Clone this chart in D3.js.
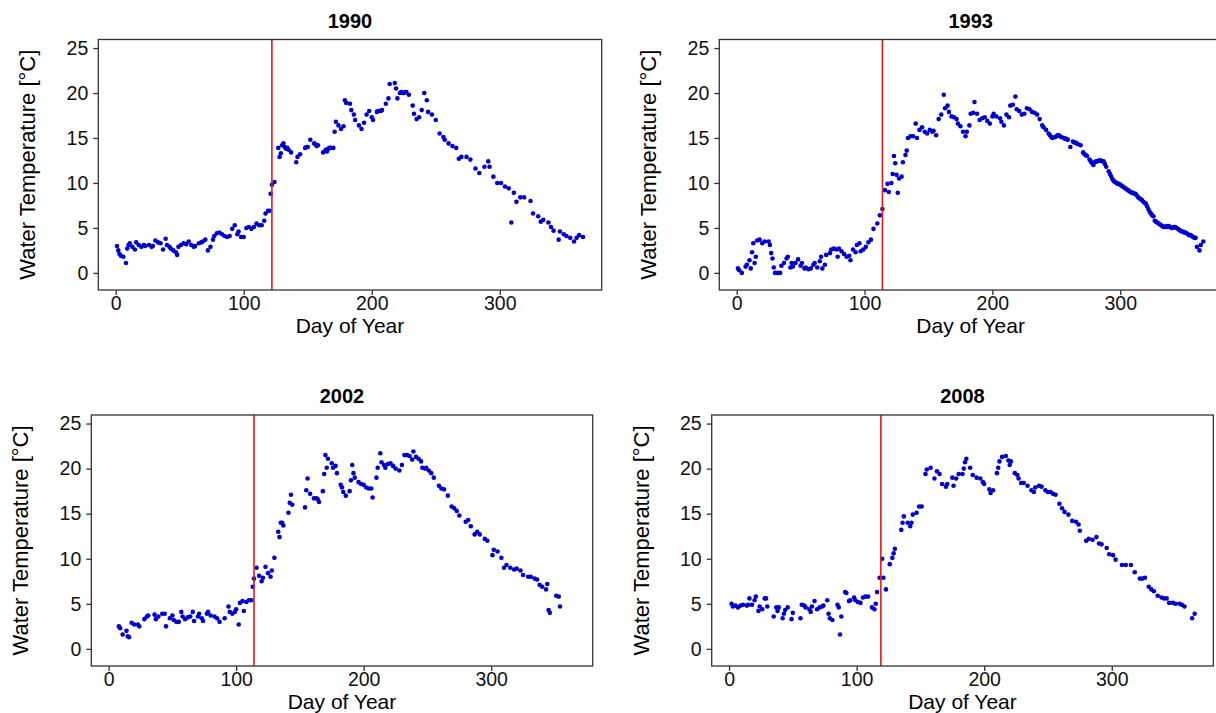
<!DOCTYPE html>
<html><head><meta charset="utf-8">
<script src="https://cdn.jsdelivr.net/npm/d3@7/dist/d3.min.js"></script>
<style>body{margin:0;background:#fff}svg{display:block}</style>
</head><body>
<svg id="c" width="1216" height="713"></svg>
<script>
const years = ["1990", "1993", "2002", "2008"];
const markerDays = [122, 114, 114, 119];
const xTicks = [0, 100, 200, 300];
const yTicks = [0, 5, 10, 15, 20, 25];

const days1990 = [1,2,3,4,6,8,9,10,11,13,15,16,18,20,22,23,26,28,29,31,33,35,37,39,40,42,43,45,47,48,49,51,53,55,57,59,61,62,65,67,68,70,72,74,76,77,79,81,83,85,87,89,91,93,95,96,98,100,102,104,106,108,110,112,114,116,117,119,120,121,122,124,127,128,129,130,131,132,133,134,135,137,141,142,144,148,149,150,152,155,156,157,158,162,164,165,166,167,168,170,171,172,174,176,178,179,180,183,184,186,187,190,192,194,196,198,200,201,204,205,206,207,208,211,213,214,218,219,220,222,223,224,225,226,227,229,232,233,235,237,239,241,243,244,247,250,253,256,257,260,263,266,268,270,274,277,281,284,288,291,292,295,298,301,304,307,309,311,313,316,319,324,326,330,332,334,338,340,342,346,347,350,352,355,358,360,362,365];
const temp1990 = [3.0,2.5,2.1,1.9,1.8,1.1,2.7,3.1,3.3,2.9,2.6,3.4,3.1,2.9,3.1,3.0,3.1,2.9,3.0,3.6,3.4,3.3,2.6,3.8,3.1,2.9,2.7,2.5,2.3,2.0,2.9,3.1,3.3,3.2,3.5,3.1,2.9,3.0,3.3,3.4,3.5,3.7,2.5,2.9,3.7,4.1,4.4,4.5,4.3,4.1,4.0,4.1,4.9,5.3,4.3,4.6,4.0,4.0,5.0,5.1,4.9,5.1,5.5,5.3,5.3,5.8,6.6,6.9,6.9,8.8,9.8,10.1,13.9,12.9,13.3,14.2,14.4,14.0,13.8,13.9,13.7,13.4,12.3,12.9,13.2,13.9,14.0,14.0,14.8,14.4,14.3,14.1,14.2,13.4,13.7,13.5,13.8,13.9,13.9,13.9,15.7,16.8,16.4,16.0,16.3,19.2,18.9,18.8,18.1,17.6,17.0,16.4,16.0,16.7,17.6,18.0,17.3,17.0,17.9,18.0,18.0,18.0,18.1,18.8,19.4,21.0,21.1,20.5,19.4,20.0,20.1,20.0,20.0,20.1,20.1,19.8,18.6,17.7,17.1,17.3,18.1,20.0,19.2,17.9,17.6,17.0,15.5,15.1,14.8,14.4,14.1,13.9,12.7,12.9,12.9,12.6,11.6,11.1,11.8,12.4,11.8,10.7,10.0,10.0,9.6,9.4,5.6,8.9,7.9,8.4,8.4,8.0,6.6,6.3,5.7,5.9,5.6,5.1,4.7,3.7,4.6,4.3,4.1,3.9,3.5,3.9,4.2,4.0];

const days1993 = [1,2,4,7,8,10,11,12,13,14,15,16,18,20,22,25,26,27,28,29,30,32,34,35,37,39,40,42,43,44,46,48,50,51,53,54,56,58,60,61,63,65,66,67,69,70,73,74,76,78,79,80,82,84,86,88,89,91,93,94,96,97,99,101,103,105,107,110,112,114,116,118,119,121,122,123,124,125,126,127,129,130,132,133,134,136,138,140,141,143,145,147,149,151,153,154,156,158,160,162,163,165,166,168,170,172,173,175,177,179,180,182,183,185,186,188,190,192,194,196,198,200,201,203,206,207,209,211,213,214,216,218,219,221,223,225,227,229,231,233,235,237,239,240,242,244,245,246,247,249,250,251,252,253,254,256,257,258,259,261,263,264,265,266,267,269,271,272,273,274,276,277,278,279,280,281,282,283,284,285,286,287,288,289,291,292,293,294,295,296,297,298,299,300,301,302,303,304,305,306,307,308,309,310,311,312,313,314,315,316,317,318,319,320,321,322,323,324,325,326,327,328,329,330,331,332,333,334,335,336,337,338,339,340,341,342,343,344,345,346,347,348,349,350,351,352,353,354,355,356,357,358,359,360,362,363,365];
const temp1993 = [0.5,0.3,0.0,0.7,0.9,1.4,0.5,2.3,3.3,1.1,1.8,3.6,3.7,3.3,3.5,3.5,3.1,2.2,1.6,0.6,0.0,0.0,0.0,0.8,1.1,1.6,1.8,0.6,1.1,0.7,1.1,1.5,0.8,1.1,0.5,0.6,0.4,0.5,0.9,1.1,0.6,1.3,1.8,0.5,0.9,2.0,2.2,2.6,2.7,2.6,1.8,2.7,2.4,2.1,1.8,1.9,1.4,2.6,2.3,3.1,3.3,2.4,2.6,2.9,3.4,3.7,4.9,5.5,6.4,7.1,9.2,9.9,9.0,10.0,11.0,13.0,12.2,10.9,8.9,10.5,10.7,12.3,13.1,13.6,15.0,15.2,15.2,16.6,15.0,15.9,16.2,15.7,15.5,15.9,15.7,15.8,15.3,17.1,17.6,19.8,18.3,18.6,17.9,17.4,17.3,17.1,16.6,16.3,15.7,15.2,15.7,16.4,17.7,17.8,19.0,17.7,17.0,17.2,17.3,16.9,16.6,17.4,17.7,17.4,17.2,16.8,16.4,17.6,17.3,18.6,18.7,19.6,18.2,18.0,17.6,17.7,18.3,18.2,17.9,17.8,17.6,17.1,16.4,16.2,15.9,15.5,15.3,15.1,15.0,15.1,15.2,15.3,15.3,15.2,15.1,15.0,14.9,14.9,14.8,14.0,14.6,14.5,14.5,14.4,14.3,14.2,13.4,13.2,13.1,13.0,12.6,12.4,12.2,12.0,12.3,12.4,12.4,12.5,12.5,12.5,12.4,12.4,12.1,11.8,11.3,11.0,10.7,10.4,10.2,10.1,10.0,9.9,9.9,9.8,9.7,9.6,9.5,9.4,9.3,9.2,9.1,9.0,8.9,8.9,8.8,8.8,8.6,8.4,8.3,8.2,8.1,7.9,7.8,7.7,7.4,7.1,6.8,6.6,6.4,6.3,5.8,5.7,5.6,5.5,5.4,5.3,5.2,5.1,5.1,5.2,5.1,5.2,5.1,5.0,5.0,5.1,5.1,5.0,4.9,4.8,4.7,4.6,4.6,4.5,4.5,4.4,4.3,4.2,4.2,4.1,4.0,3.9,3.9,2.9,2.5,3.1,3.5];

const days2002 = [8,9,11,14,15,16,18,20,23,24,28,30,31,36,37,39,42,44,45,48,50,51,53,55,57,58,60,62,64,66,67,70,71,73,74,77,78,80,83,85,87,91,94,95,97,99,100,102,103,105,106,108,110,112,113,114,116,118,120,121,123,125,127,128,130,133,134,135,136,137,141,142,143,144,154,155,156,158,161,163,164,165,168,169,170,171,172,175,176,178,179,182,183,184,186,189,190,191,192,193,196,198,200,202,204,206,207,210,211,213,214,216,217,219,221,223,225,228,230,232,234,236,238,239,241,243,245,246,248,249,251,253,255,259,261,263,266,269,271,273,275,280,282,284,287,289,291,295,297,301,302,305,308,310,312,315,318,320,323,325,329,331,334,336,338,340,343,344,345,346,351,353,354];
const temp2002 = [2.5,2.3,1.6,2.0,1.4,1.3,2.9,2.7,2.7,2.5,3.3,3.6,3.7,3.8,3.3,3.6,3.9,3.9,2.5,3.4,3.7,3.2,3.0,3.0,4.1,3.6,3.3,3.5,3.6,4.1,3.1,3.6,3.9,3.4,3.1,3.9,4.1,3.7,3.6,3.4,3.0,3.4,4.7,4.1,3.9,4.1,4.4,2.7,5.1,5.3,4.2,5.2,5.4,5.4,6.9,7.8,9.0,8.1,7.5,7.9,9.1,8.4,8.0,8.7,10.1,13.0,12.4,14.0,14.0,13.7,15.1,16.2,17.1,16.0,15.7,17.6,18.9,17.2,16.7,16.7,16.6,16.3,17.5,19.4,21.5,20.1,21.1,20.6,20.1,20.3,19.5,18.2,17.9,17.4,17.0,17.5,18.7,20.4,19.5,19.0,18.5,18.3,18.2,17.9,17.8,17.8,16.8,19.0,20.1,21.7,20.7,20.4,20.1,20.5,20.6,20.3,20.0,19.8,20.4,21.5,21.5,21.4,21.0,21.9,21.3,21.1,20.8,20.1,20.0,20.1,19.8,19.5,19.0,18.1,17.8,17.7,17.0,15.8,15.6,15.3,14.8,14.1,14.3,13.6,12.7,13.0,12.7,12.2,12.0,10.4,11.0,10.8,10.1,9.0,9.3,9.0,8.8,8.9,8.7,8.2,8.0,8.0,7.8,7.7,7.1,6.9,6.6,7.2,4.3,4.0,5.9,5.8,4.7];

const days2008 = [2,3,5,7,9,11,14,15,16,18,20,21,23,24,26,28,29,30,35,37,38,39,42,43,44,46,49,50,56,57,59,60,63,64,65,67,69,71,73,74,77,78,79,81,85,86,87,88,91,92,94,95,98,99,101,103,105,107,109,112,114,115,116,118,120,121,123,126,128,129,130,135,136,137,140,142,143,144,147,149,151,154,155,158,161,163,165,167,170,171,175,176,178,180,183,184,185,186,189,191,194,197,199,200,204,205,207,210,211,212,214,217,219,220,221,224,226,227,229,231,234,237,239,240,243,245,248,250,252,254,256,259,261,263,266,269,272,274,275,280,282,285,288,290,292,296,298,301,303,308,311,315,318,322,324,326,329,331,333,336,339,341,343,345,348,350,353,355,357,363,365];
const temp2008 = [5.0,4.7,4.8,4.6,4.8,4.9,4.8,4.9,5.6,4.9,5.4,5.8,4.2,4.7,4.4,5.6,5.6,4.7,3.6,4.6,4.2,4.6,3.4,3.9,4.3,4.6,3.3,4.0,3.4,4.9,4.8,4.6,4.4,4.1,4.7,5.3,4.4,4.6,4.7,4.8,5.4,3.9,3.4,3.2,4.9,4.6,1.6,3.6,6.3,6.2,5.3,5.4,5.7,5.4,5.2,5.1,5.7,5.8,5.8,4.6,4.4,5.0,6.3,7.9,10.0,7.9,6.6,9.4,10.1,10.6,11.1,13.2,14.0,14.7,14.0,13.6,14.0,14.9,15.1,15.8,15.8,19.4,19.9,20.1,18.9,19.7,19.4,18.3,18.0,18.3,19.0,18.1,18.9,19.4,19.4,20.0,20.7,21.1,20.1,19.3,19.0,18.9,18.5,18.3,17.7,17.3,17.6,19.5,20.1,20.8,21.3,21.4,20.9,20.4,20.8,19.5,19.3,18.9,18.4,18.4,18.1,17.6,17.4,17.9,18.1,18.0,17.6,17.4,17.4,17.2,17.1,16.1,15.6,15.2,14.9,14.2,14.1,13.8,13.1,12.0,12.2,12.1,12.4,11.7,11.6,11.2,10.5,10.4,9.9,9.3,9.3,9.3,8.5,7.8,7.8,7.9,6.9,6.6,6.4,5.9,5.7,5.6,5.6,5.1,5.1,5.0,5.0,4.9,4.7,3.4,3.9];

const seriesDays = [days1990, days1993, days2002, days2008];
const seriesTemps = [temp1990, temp1993, temp2002, temp2008];

// layout (plot-area boxes)
const boxes = [
  {l: 98.3, t: 39.5, r: 601.7, b: 290},
  {l: 719.3, t: 39.5, r: 1222, b: 290},
  {l: 91.3, t: 415, r: 592.7, b: 666},
  {l: 711.7, t: 415, r: 1213.3, b: 666}
];
const FONT = "'Liberation Sans', Arial, Helvetica, sans-serif";
const svg = d3.select("#c");

years.forEach((yr, i) => {
  const bx = boxes[i];
  const x = d3.scaleLinear().domain([-13.6, 379.6]).range([bx.l, bx.r]);
  const y = d3.scaleLinear().domain([-1.9, 25.95]).range([bx.b, bx.t]);
  const g = svg.append("g");
  const pts = seriesDays[i].map((d, k) => ({d, t: seriesTemps[i][k]}));

  g.selectAll("circle").data(pts).enter().append("circle")
    .attr("cx", p => x(p.d)).attr("cy", p => y(p.t)).attr("r", 2.3)
    .attr("fill", "#0000cd");

  g.append("line")
    .attr("x1", x(markerDays[i])).attr("x2", x(markerDays[i]))
    .attr("y1", bx.t).attr("y2", bx.b)
    .attr("stroke", "#e8161b").attr("stroke-width", 1.6);

  g.append("rect").attr("x", bx.l).attr("y", bx.t)
    .attr("width", bx.r - bx.l).attr("height", bx.b - bx.t)
    .attr("fill", "none").attr("stroke", "#333").attr("stroke-width", 1.3);

  const xa = g.append("g").attr("transform", `translate(0,${bx.b})`)
    .call(d3.axisBottom(x).tickValues(xTicks).tickSize(5).tickPadding(1).tickFormat(d3.format("d")));
  const ya = g.append("g").attr("transform", `translate(${bx.l},0)`)
    .call(d3.axisLeft(y).tickValues(yTicks).tickSize(5).tickPadding(5).tickFormat(d3.format("d")));
  [xa, ya].forEach(a => {
    a.select(".domain").remove();
    a.selectAll(".tick line").attr("stroke", "#333").attr("stroke-width", 1.3);
    a.selectAll(".tick text").attr("fill", "#111")
      .style("font-family", FONT).style("font-size", "19.5px");
  });

  const cx = (bx.l + bx.r) / 2;
  g.append("text").attr("x", cx).attr("y", bx.t - 12)
    .attr("text-anchor", "middle").style("font-family", FONT)
    .style("font-size", "20px").style("font-weight", "bold").text(yr);
  g.append("text").attr("x", cx).attr("y", bx.b + 42.6)
    .attr("text-anchor", "middle").style("font-family", FONT)
    .style("font-size", "21px").text("Day of Year");
  const cy = (bx.t + bx.b) / 2;
  g.append("text").attr("transform", `translate(${bx.l - 63},${cy}) rotate(-90)`)
    .attr("text-anchor", "middle").style("font-family", FONT)
    .style("font-size", "22px").text("Water Temperature [°C]");
});
</script>
</body></html>
